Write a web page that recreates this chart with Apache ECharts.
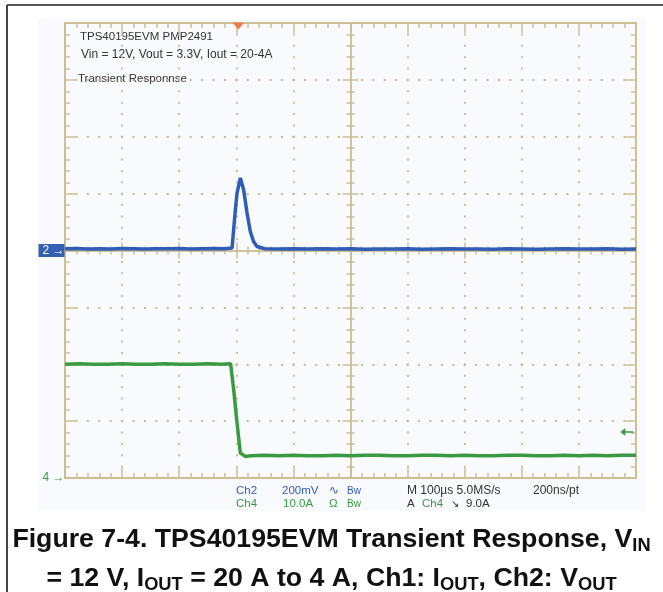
<!DOCTYPE html>
<html>
<head>
<meta charset="utf-8">
<script src="https://cdn.jsdelivr.net/npm/echarts@6/dist/echarts.min.js"></script>
<style>
html, body { margin: 0; background: #fff; }
#main { width: 663px; height: 592px; }
</style>
</head>
<body>
<div id="main"></div>
<script>
// Ch2 = Vout (AC coupled, mV), Ch4 = Iout (A); time in us, 100us/div
var timeCh2 = [0, 20, 40, 60, 80, 100, 120, 140, 160, 180, 200, 220, 240, 260, 280,
  292.6, 298.3, 301.3, 307.1, 312.9, 318.8, 324.6, 330.4, 336.3,
  350, 375, 400, 425, 450, 475, 500, 525, 550, 575, 600, 625, 650, 675, 700,
  725, 750, 775, 800, 825, 850, 875, 900, 925, 950, 975, 1000];
var voutMv = [6, 7, 5, 6, 5, 7, 6, 5, 6, 6, 7, 5, 6, 7, 6,
  9, 142, 202, 255, 213, 132, 66, 31, 14,
  6, 5, 6, 5, 6, 5, 6, 4, 5, 5, 6, 4, 5, 6, 5,
  5, 4, 6, 5, 4, 5, 6, 5, 5, 6, 4, 5];

var timeCh4 = [0, 25, 50, 75, 100, 125, 150, 175, 200, 225, 250, 275,
  290, 295.4, 301.3, 307, 315.8,
  325, 350, 375, 400, 425, 450, 475, 500, 525, 550, 575, 600, 625, 650,
  675, 700, 725, 750, 775, 800, 825, 850, 875, 900, 925, 950, 975, 1000];
var ioutA = [20.0, 20.1, 20.0, 20.0, 20.1, 20.0, 20.0, 20.1, 20.0, 20.0, 20.1, 20.0,
  20.1, 15.5, 9.7, 4.4, 3.8,
  3.9, 4.0, 3.9, 4.0, 3.9, 3.9, 4.0, 3.9, 4.0, 4.0, 3.9, 3.9, 4.0, 4.0,
  3.9, 4.0, 3.9, 3.9, 4.0, 4.0, 3.9, 3.9, 4.0, 3.9, 4.0, 3.9, 4.0, 4.0];

var triggerTime = 303.6;   // orange trigger marker
var triggerLevel = 8.1;    // Ch4 trigger level arrow (A)

var TAN = '#cdbf92';
var DOT = '#c9b887';
var BLUE = '#2f5cb6';
var GREEN = '#3a9a42';
var DARK = '#333';
var FONT = '"Liberation Sans", Arial, sans-serif';

var myChart = echarts.init(document.getElementById('main'));

function frameX(pos, offset, withSplit) {
  return {
    type: 'value', min: 0, max: 1000, interval: 100, position: pos, offset: offset,
    axisLine: { show: true, onZero: false, lineStyle: { color: TAN, width: offset ? 1.5 : 2 } },
    axisTick: { show: true, inside: true, length: offset ? 8 : 10, lineStyle: { color: TAN, width: 1.5 } },
    minorTick: { show: true, splitNumber: 5, length: offset ? 4 : 5, lineStyle: { color: TAN, width: 1.5 } },
    axisLabel: { show: false },
    splitLine: withSplit
      ? { show: true, lineStyle: { color: DOT, width: 1.8, type: [2, 9.375], dashOffset: 1 } }
      : { show: false }
  };
}
function frameY(pos, offset, min, max, interval, withSplit) {
  return {
    type: 'value', min: min, max: max, interval: interval, position: pos, offset: offset,
    axisLine: { show: true, onZero: false, lineStyle: { color: TAN, width: offset ? 1.5 : 2 } },
    axisTick: { show: true, inside: true, length: offset ? 8 : 10, lineStyle: { color: TAN, width: 1.5 } },
    minorTick: { show: true, splitNumber: 5, length: offset ? 4 : 5, lineStyle: { color: TAN, width: 1.5 } },
    axisLabel: { show: false },
    splitLine: withSplit
      ? { show: true, lineStyle: { color: DOT, width: 1.8, type: [2, 9.42], dashOffset: 1 } }
      : { show: false }
  };
}
function txt(x, y, s, color, size) {
  return {
    type: 'text', x: x, y: y, silent: true,
    style: { text: s, fill: color, font: (size || 11.5) + 'px ' + FONT,
      verticalAlign: 'middle', textVerticalAlign: 'middle' }
  };
}

option = {
  animation: false,
  grid: { left: 65, right: 27, top: 23, bottom: 114 },
  title: {
    left: 'center', top: 515, padding: [5, 5, 5, 11],
    text: '{a|Figure 7-4. TPS40195EVM Transient Response, V}{s|IN}\n' +
      '{a|= 12 V, I}{s|OUT}{a| = 20 A to 4 A, Ch1: I}{s|OUT}{a|, Ch2: V}{s|OUT}',
    textStyle: {
      rich: {
        a: { fontSize: 26.7, fontWeight: 'bold', fontFamily: FONT, color: '#111', lineHeight: 39 },
        s: { fontSize: 18.3, fontWeight: 'bold', fontFamily: FONT, color: '#111',
          verticalAlign: 'bottom', padding: [0, 0, 4, 0] }
      }
    }
  },
  xAxis: [
    frameX('bottom', 0, true),
    frameX('top', 0, false),
    frameX('bottom', -227.5, false),
    frameX('top', -227.5, false)
  ],
  yAxis: [
    frameY('left', 0, -800, 800, 200, true),
    frameY('right', 0, 0, 80, 10, false),
    frameY('left', -285.5, -4, 4, 1, false),
    frameY('right', -285.5, -4, 4, 1, false)
  ],
  graphic: [
    { type: 'rect', z: -100, silent: true, shape: { x: 38, y: 19, width: 608, height: 492 }, style: { fill: '#f8fafd' } },
    { type: 'line', silent: true, shape: { x1: 7, y1: 5, x2: 663, y2: 5 }, style: { stroke: '#555', lineWidth: 2 } },
    { type: 'line', silent: true, shape: { x1: 7, y1: 5, x2: 7, y2: 592 }, style: { stroke: '#444', lineWidth: 2 } },
    txt(80, 37, 'TPS40195EVM PMP2491', DARK),
    txt(81, 55, 'Vin = 12V, Vout = 3.3V, Iout = 20-4A', DARK, 12),
    txt(78, 79, 'Transient Responnse', DARK),
    txt(236, 491, 'Ch2', BLUE),
    txt(282, 491, '200mV', BLUE),
    txt(329, 491, '∿', BLUE),
    txt(347, 491, 'Bw', BLUE, 10),
    txt(407, 491, 'M 100µs 5.0MS/s', DARK, 12),
    txt(533, 491, '200ns/pt', DARK, 12),
    txt(236, 504, 'Ch4', GREEN),
    txt(283, 504, '10.0A', GREEN),
    txt(329, 504, 'Ω', GREEN),
    txt(347, 504, 'Bw', GREEN, 10),
    txt(407, 504, 'A', DARK),
    txt(422, 504, 'Ch4', GREEN),
    txt(451, 504, '↘', DARK, 10),
    txt(466, 504, '9.0A', DARK)
  ],
  series: [
    {
      name: 'Ch2', type: 'line', xAxisIndex: 0, yAxisIndex: 0, clip: false,
      showSymbol: false, symbol: 'none',
      lineStyle: { color: BLUE, width: 3.5 },
      data: timeCh2.map(function (t, i) { return [t, voutMv[i]]; }),
      markPoint: {
        silent: true,
        data: [
          { coord: [triggerTime, 800], symbol: 'triangle', symbolRotate: 180, symbolSize: [12, 7],
            symbolOffset: [0, 3], itemStyle: { color: '#f47a46' }, label: { show: false } },
          { coord: [0, 0], symbol: 'rect', symbolSize: 1, itemStyle: { color: 'rgba(0,0,0,0)' },
            label: { show: true, position: 'left', distance: 0, formatter: '2 →', color: '#fff',
              backgroundColor: '#3460b4', padding: [1, 0, 0, 4], fontSize: 12, fontFamily: FONT } }
        ]
      }
    },
    {
      name: 'Ch4', type: 'line', xAxisIndex: 0, yAxisIndex: 1, clip: false,
      showSymbol: false, symbol: 'none',
      lineStyle: { color: GREEN, width: 3.5 },
      data: timeCh4.map(function (t, i) { return [t, ioutA[i]]; }),
      markPoint: {
        silent: true,
        data: [
          { coord: [0, 0], symbol: 'rect', symbolSize: 1, itemStyle: { color: 'rgba(0,0,0,0)' },
            label: { show: true, position: 'left', distance: 0, formatter: '4 →', color: GREEN,
              fontSize: 12, fontFamily: FONT } },
          { coord: [984, triggerLevel], symbol: 'path://M0,5 L6,0 L6,4 L16,4 L16,6 L6,6 L6,10 Z',
            symbolSize: [13, 8], itemStyle: { color: GREEN }, label: { show: false } }
        ]
      }
    }
  ]
};

myChart.setOption(option);
</script>
</body>
</html>
